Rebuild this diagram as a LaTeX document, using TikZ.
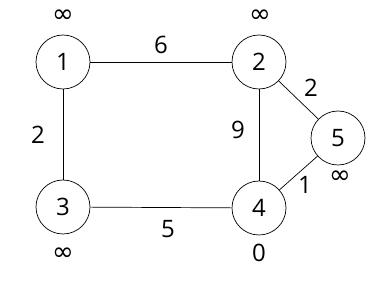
\documentclass[tikz,border=0pt]{standalone}
\usepackage{fontspec}
\setmainfont{Open Sans}
\newfontfamily\symfont{DejaVu Sans}
\usetikzlibrary{positioning}
\newcommand{\infsym}{{\symfont\fontsize{26}{28}\selectfont ∞}}

\begin{document}
\begin{tikzpicture}[x=1pt, y=-1pt,
    vert/.style={draw, circle, minimum size=54pt, inner sep=0pt, line width=0.7pt, font=\fontsize{24}{28}\selectfont},
    wlabel/.style={font=\fontsize{24}{28}\selectfont, inner sep=0pt},
    edge/.style={line width=0.7pt}]
  \useasboundingbox (0,0) rectangle (386,283);
  % vertices
  \node[vert] (v1) at (63,62) {1};
  \node[vert] (v2) at (259,62) {2};
  \node[vert] (v3) at (63,207) {3};
  \node[vert] (v4) at (259,208) {4};
  \node[vert] (v5) at (338,138) {5};
  % distances
  \node[wlabel] (d1) at (63,16) {\infsym};
  \node[wlabel] (d2) at (260,16) {\infsym};
  \node[wlabel] (d3) at (63,254) {\infsym};
  \node[wlabel] (d4) at (259,253) {0};
  \node[wlabel] (d5) at (340,177) {\infsym};
  % edges
  \draw[edge] (v1) -- (v2);
  \draw[edge] (v1) -- (v3);
  \draw[edge] (v3) -- (v4);
  \draw[edge] (v2) -- (v4);
  \draw[edge] (v2) -- (v5);
  \draw[edge] (v5) -- (v4);
  % weights
  \node[wlabel] (w12) at (161,45) {6};
  \node[wlabel] (w13) at (38,135) {2};
  \node[wlabel] (w24) at (238,130) {9};
  \node[wlabel] (w25) at (311,88) {2};
  \node[wlabel] (w45) at (305,185) {1};
  \node[wlabel] (w34) at (168,229) {5};
\end{tikzpicture}
\end{document}
